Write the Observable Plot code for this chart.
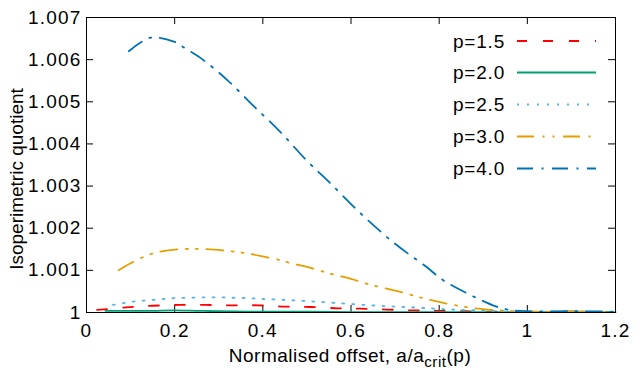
<!DOCTYPE html>
<html><head><meta charset="utf-8">
<script src="https://cdn.jsdelivr.net/npm/d3@7"></script>
<script src="https://cdn.jsdelivr.net/npm/@observablehq/plot@0.6"></script>
<style>
body{margin:0;background:#fff}
svg{font-family:"Liberation Sans",Arial,Helvetica,sans-serif}
</style>
</head><body><div id="chart"></div>
<script>
const seriesNames = ["p=1.5","p=2.0","p=2.5","p=3.0","p=4.0"];

const p15_x = [0.024,0.09,0.15,0.21,0.27,0.33,0.39,0.45,0.51,0.57,0.62,0.68,0.74,0.8,0.86,0.92,1.0,1.1,1.2];
const p15_y = [1.00006,1.00012,1.00016,1.00018,1.00018,1.00017,1.00017,1.00014,1.00013,1.0001,1.00009,1.00007,1.00005,1.00004,1.00003,1.00002,1.00001,1.00002,1.00001];

const p20_x = [0.043,0.1,0.15,0.2,0.25,0.3,0.4,0.5,0.6,0.7,0.8,0.9,1.0,1.1,1.2];
const p20_y = [1.00004,1.00004,1.00004,1.00005,1.00004,1.00003,1.00002,1.00002,1.00001,1.00001,1.00001,1.00001,1.00001,1.00002,1.00001];

const p25_x = [0.06,0.083,0.106,0.128,0.151,0.174,0.197,0.23,0.265,0.3,0.333,0.37,0.4,0.45,0.5,0.56,0.63,0.7,0.76,0.83,0.9,0.95,1.0,1.1,1.2];
const p25_y = [1.00018,1.00022,1.00026,1.00028,1.0003,1.00032,1.00034,1.00035,1.00036,1.00036,1.00035,1.00034,1.00032,1.0003,1.00027,1.00023,1.00018,1.00014,1.00011,1.00007,1.00005,1.00003,1.00002,1.00002,1.00001];

const p30_x = [0.073,0.1,0.15,0.2,0.25,0.29,0.33,0.36,0.4,0.44,0.46,0.5,0.54,0.56,0.6,0.64,0.7,0.76,0.8,0.86,0.91,0.97,1.0,1.1,1.2];
const p30_y = [1.001,1.00117,1.0014,1.00149,1.00151,1.00149,1.00145,1.00141,1.00133,1.00124,1.00118,1.00108,1.00096,1.0009,1.0008,1.00067,1.00052,1.00035,1.00025,1.00013,1.00007,1.00003,1.00002,1.00002,1.00001];

const p40_x = [0.096,0.145,0.2,0.225,0.26,0.32,0.38,0.44,0.5,0.55,0.62,0.7,0.77,0.81,0.89,0.93,0.96,1.0,1.1,1.2];
const p40_y = [1.0062,1.00652,1.00642,1.00626,1.00603,1.00551,1.00489,1.00428,1.0036,1.0031,1.00237,1.00163,1.00109,1.00076,1.00032,1.00014,1.00006,1.00003,1.00003,1.00002];

const xTicks = [0,0.2,0.4,0.6,0.8,1.0,1.2];
const yTicks = [1.000,1.001,1.002,1.003,1.004,1.005,1.006,1.007];
const yTickLabels = ["1","1.001","1.002","1.003","1.004","1.005","1.006","1.007"];

const colors = ["#ff0000","#009e73","#56b4e9","#e69f00","#0072b2"];
const dashes = ["10,16",null,"2,8","17,8.5,2,8,2,8.5","16,8.5,2,8.5"];

const xs = [p15_x,p20_x,p25_x,p30_x,p40_x];
const ys = [p15_y,p20_y,p25_y,p30_y,p40_y];

const W = 640, H = 384, mL = 86, mR = 25, mT = 17, mB = 72;
const plotW = W - mL - mR, plotH = H - mT - mB;
const FS = 19;

const lineMarks = seriesNames.map((name, i) => {
  const data = xs[i].map((x, j) => ({x, y: ys[i][j]}));
  return Plot.line(data, {x: "x", y: "y", stroke: colors[i], strokeWidth: 1.8,
    strokeDasharray: dashes[i] || undefined, curve: "catmull-rom"});
});

const chart = Plot.plot({
  width: W, height: H,
  marginLeft: mL, marginRight: mR, marginTop: mT, marginBottom: mB,
  style: {fontFamily: '"Liberation Sans",Arial,Helvetica,sans-serif', fontSize: FS + "px", background: "#fff", color: "#000"},
  x: {domain: [0, 1.2], label: null},
  y: {domain: [1, 1.007], label: null},
  marks: [
    Plot.axisX(xTicks, {tickSize: 0, tickPadding: 11, tickFormat: d => String(+d.toFixed(1)), fontSize: FS}),
    Plot.axisY(yTicks, {tickSize: 0, tickPadding: 5, tickFormat: (d) => yTickLabels[yTicks.indexOf(d)], fontSize: FS}),
    Plot.tickX(xTicks, {x: d => d, stroke: "#000", insetTop: plotH - 7}),
    Plot.tickX(xTicks, {x: d => d, stroke: "#000", insetBottom: plotH - 7}),
    Plot.tickY(yTicks, {y: d => d, stroke: "#000", insetRight: plotW - 7}),
    Plot.tickY(yTicks, {y: d => d, stroke: "#000", insetLeft: plotW - 7}),
    ...lineMarks,
    Plot.frame({stroke: "#000", strokeWidth: 1})
  ]
});

document.getElementById("chart").appendChild(chart);

const svg = d3.select(chart);
svg.selectAll('g[aria-label="x-axis tick label"], g[aria-label="y-axis tick label"]')
  .attr("letter-spacing", "1.2px");

// axis titles
svg.append("text")
  .attr("transform", "translate(23,179) rotate(-90)")
  .attr("text-anchor", "middle")
  .attr("font-size", FS)
  .attr("fill", "#000")
  .text("Isoperimetric quotient");

const xl = svg.append("text")
  .attr("x", 350).attr("y", 362)
  .attr("text-anchor", "middle")
  .attr("font-size", FS)
  .attr("letter-spacing", "0.5px")
  .attr("fill", "#000");
xl.append("tspan").text("Normalised offset, a/a");
xl.append("tspan").attr("font-size", FS * 0.8).attr("dy", 5).text("crit");
xl.append("tspan").attr("dy", -5).text("(p)");

// legend
const lg = svg.append("g");
const rowY = [41, 72.5, 104.5, 136.5, 168.5];
seriesNames.forEach((name, i) => {
  lg.append("text").attr("x", 505).attr("y", rowY[i] + 6.8)
    .attr("text-anchor", "end").attr("font-size", FS).attr("letter-spacing", "0.8px")
    .attr("fill", "#000").text(name);
  const ln = lg.append("line").attr("x1", 517).attr("x2", 596)
    .attr("y1", rowY[i]).attr("y2", rowY[i])
    .attr("stroke", colors[i]).attr("stroke-width", 1.8);
  if (dashes[i]) ln.attr("stroke-dasharray", dashes[i]);
});
</script>
</body></html>
